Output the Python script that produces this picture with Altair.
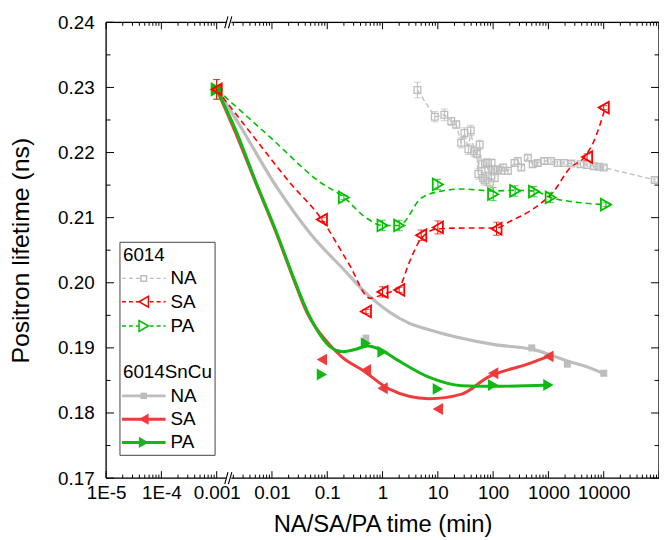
import altair as alt
import pandas as pd

# ------------------------------------------------------------------ data
# 6014, natural ageing (open grey squares, dashed connecting line)
NA6014_X = [4.27, 8.8, 13.1, 17.5, 21.5, 26.4, 30.3, 35.7, 39.4, 45.2, 50.5, 54, 57.1,
            61.9, 66, 71.1, 76.2, 81.5, 87.3, 93.5, 100, 107, 123, 141, 151, 185, 244,
            280, 322, 424, 520, 638, 841, 1110, 1460, 1920, 2600, 3800, 5000, 6600,
            8200, 10000, 83800]
NA6014_Y = [0.2296, 0.2255, 0.2258, 0.2248, 0.2243, 0.2215, 0.2230, 0.2205, 0.2234,
            0.2202, 0.2198, 0.2167, 0.2212, 0.2182, 0.2161, 0.2157, 0.2184, 0.2174,
            0.2154, 0.2184, 0.2174, 0.2161, 0.2174, 0.2172, 0.2177, 0.2172, 0.2184,
            0.2187, 0.2177, 0.2192, 0.2182, 0.2184, 0.2187, 0.2187, 0.2184, 0.2184,
            0.2183, 0.2182, 0.2181, 0.2179, 0.2178, 0.2177, 0.2158]
NA6014_ERR = [0.0012, 0.0008, 0.0009, 0.0006, 0.0006, 0.0008, 0.0008, 0.0008, 0.0008,
              0.0008, 0.0006, 0.0008, 0.0007, 0.0007, 0.0008, 0.0008, 0.0007, 0.0006,
              0.0006, 0.0006, 0.0006, 0.0006, 0.0005, 0.0005, 0.0005, 0.0005, 0.0005,
              0.0005, 0.0004, 0.0004, 0.0004, 0.0004, 0.0004, 0.0003, 0.0003, 0.0003,
              0.0003, 0.0003, 0.0003, 0.0003, 0.0003, 0.0003, 0.0003]

# 6014, SA (open red left triangles) and PA (open green right triangles)
SA6014_X = [0.001, 0.08, 0.5, 1, 2, 5, 10, 115, 5000, 10000]
SA6014_Y = [0.2297, 0.2097, 0.1956, 0.1986, 0.1989, 0.2073, 0.2085, 0.2083, 0.2193, 0.2269]
SA6014_ERR = [0.0015, 0.0003, 0.0003, 0.0008, 0.0004, 0.0008, 0.0010, 0.0010, 0.0005, 0.0003]
PA6014_X = [0.001, 0.2, 1, 2, 10, 100, 250, 550, 1100, 11000]
PA6014_Y = [0.2297, 0.2131, 0.2088, 0.2088, 0.2151, 0.2136, 0.2141, 0.2140, 0.2131, 0.2120]
PA6014_ERR = [0.0015, 0.0003, 0.0008, 0.0008, 0.0008, 0.0010, 0.0008, 0.0008, 0.0008, 0.0003]

# smoothed guide curves for 6014 SA / PA (dashed)
SA6014_FIT_X = [0.001, 0.005, 0.02, 0.08, 0.25, 0.6, 1, 2, 3, 5, 10, 30, 115, 200, 500,
                1260, 2500, 4400, 6600, 10700]
SA6014_FIT_Y = [0.2297, 0.2221, 0.2156, 0.2097, 0.2028, 0.1976, 0.1982, 0.1993, 0.2030,
                0.2068, 0.2083, 0.2084, 0.2084, 0.2094, 0.2112, 0.2141, 0.2177, 0.2192,
                0.2217, 0.2269]
PA6014_FIT_X = [0.001, 0.01, 0.07, 0.2, 0.5, 1, 2, 5, 12, 27, 100, 250, 550, 1100, 3800, 11000]
PA6014_FIT_Y = [0.2297, 0.2221, 0.2156, 0.2131, 0.2100, 0.2088, 0.2088, 0.2130, 0.2141,
                0.2144, 0.2141, 0.2142, 0.2141, 0.2131, 0.2123, 0.2120]

# 6014SnCu (filled markers, solid smoothed curves)
NASN_X = [0.001, 0.5, 500, 2200, 10000]
NASN_Y = [0.2297, 0.1915, 0.1900, 0.1875, 0.1861]
SASN_X = [0.001, 0.08, 0.5, 1, 10, 100, 1000]
SASN_Y = [0.2297, 0.1882, 0.1866, 0.1838, 0.1806, 0.1861, 0.1887]
PASN_X = [0.001, 0.08, 0.5, 1, 10, 100, 1000]
PASN_Y = [0.2297, 0.1859, 0.1907, 0.1894, 0.1837, 0.1843, 0.1843]

NASN_FIT_X = [0.001, 0.0022, 0.0124, 0.05, 0.2, 0.55, 3, 6.9, 107, 560, 2200, 6600, 10000]
NASN_FIT_Y = [0.2297, 0.2252, 0.2146, 0.2075, 0.2020, 0.1981, 0.1938, 0.1928, 0.1905,
              0.1897, 0.1880, 0.1867, 0.1860]
SASN_FIT_X = [0.001, 0.0022, 0.005, 0.0124, 0.025, 0.043, 0.11, 0.19, 0.45, 1.3, 6.9, 27,
              81, 415, 1000]
SASN_FIT_Y = [0.2297, 0.2230, 0.2155, 0.2073, 0.2004, 0.1954, 0.1905, 0.1885, 0.1865,
              0.1837, 0.1822, 0.1829, 0.1855, 0.1875, 0.1887]
PASN_FIT_X = [0.001, 0.0022, 0.005, 0.0124, 0.025, 0.043, 0.12, 0.19, 0.33, 0.54, 0.88,
              1.8, 6.9, 27, 107, 1000]
PASN_FIT_Y = [0.2297, 0.2235, 0.2157, 0.2075, 0.2006, 0.1957, 0.1900, 0.1894, 0.1898,
              0.1903, 0.1898, 0.1882, 0.1855, 0.1842, 0.1841, 0.1843]

# axis ticks
XTICK_VALS = [1e-5, 1e-4, 1e-3, 1e-2, 1e-1, 1, 10, 100, 1000, 10000]
XTICK_LABELS = ["1E-5", "1E-4", "0.001", "0.01", "0.1", "1", "10", "100", "1000", "10000"]
XMAJOR = XTICK_VALS + [100000]
XMINOR = [m * 10.0 ** d for d in range(-5, 5) for m in range(2, 10)]
YTICK_VALS = [0.17, 0.18, 0.19, 0.20, 0.21, 0.22, 0.23, 0.24]
YMINOR = [0.175, 0.185, 0.195, 0.205, 0.215, 0.225, 0.235]
# axis break: gap and two slanted strokes (start/end in time units)
BREAK_GAP = [0.00148, 0.00184]
BREAK_SLASH_FROM = [0.00140, 0.00163]
BREAK_SLASH_TO = [0.00160, 0.00188]

LEG_GROUPS = ["6014", "6014SnCu"]
LEG_LABELS = ["NA", "SA", "PA"]

XTITLE = "NA/SA/PA time (min)"
YTITLE = "Positron lifetime (ns)"

# ------------------------------------------------------------------ style
W, H = 558, 460
FONT = "Liberation Sans"
GREY = "#bdbdbd"
RED = "#ff0000"
GREEN = "#00c000"
RED2 = "#ef3b3b"
GREEN2 = "#14b814"
TICKFS = 19
LEGFS = 19

xs = alt.Scale(type="log", domain=[1e-5, 1e5], nice=False)
ys = alt.Scale(domain=[0.17, 0.24], nice=False, zero=False)

xlabel_expr = " : ".join(
    f"abs(datum.value/{v} - 1) < 1e-6 ? '{l}'" for v, l in zip(XTICK_VALS, XTICK_LABELS)
) + " : ''"
XAX = alt.Axis(values=XTICK_VALS, labelExpr=xlabel_expr, ticks=False, domain=False,
               grid=False, labelFontSize=TICKFS, labelFont=FONT, labelColor="black",
               labelPadding=6, titleFont=FONT, titleFontSize=24,
               titleFontWeight="normal", titleColor="black", titlePadding=10,
               labelFlush=False, labelOverlap=False)
YAX = alt.Axis(values=YTICK_VALS, format=".2f", ticks=False, domain=False,
               grid=False, labelFontSize=TICKFS, labelFont=FONT, labelColor="black",
               labelPadding=12, titleFont=FONT, titleFontSize=25,
               titleFontWeight="normal", titleColor="black", titlePadding=24,
               labelFlush=False, labelOverlap=False)


def df(x, y, err=None):
    d = pd.DataFrame({"x": x, "y": y})
    if err is not None:
        d["lo"] = [a - e for a, e in zip(y, err)]
        d["hi"] = [a + e for a, e in zip(y, err)]
    return d


def X(f="x"):
    return alt.X(f"{f}:Q", scale=xs, axis=XAX, title=XTITLE)


def Y(f="y"):
    return alt.Y(f"{f}:Q", scale=ys, axis=YAX, title=YTITLE)


def errorbars(d, color):
    base = alt.Chart(d)
    r = base.mark_rule(color=color, strokeWidth=1).encode(x=X(), y=Y("lo"), y2="hi:Q")
    t1 = base.mark_tick(orient="horizontal", size=7, thickness=1, color=color).encode(x=X(), y=Y("lo"))
    t2 = base.mark_tick(orient="horizontal", size=7, thickness=1, color=color).encode(x=X(), y=Y("hi"))
    return [r, t1, t2]


def line(d, color, width, dash=None):
    kw = dict(color=color, strokeWidth=width, interpolate="monotone")
    if dash:
        kw["strokeDash"] = dash
    return alt.Chart(d).mark_line(**kw).encode(x=X(), y=Y(), order="x:Q")


def points(d, shape, color, filled, size, sw=1.6):
    if filled:
        m = alt.Chart(d).mark_point(shape=shape, filled=True, color=color, size=size, opacity=1)
    else:
        m = alt.Chart(d).mark_point(shape=shape, filled=False, color=color, size=size,
                                    strokeWidth=sw, opacity=1)
    return m.encode(x=X(), y=Y())


layers = []

# ---- 6014SnCu (solid)
layers.append(line(df(NASN_FIT_X, NASN_FIT_Y), GREY, 3.2))
layers.append(points(df(NASN_X, NASN_Y), "square", GREY, True, 50))
layers.append(line(df(SASN_FIT_X, SASN_FIT_Y), RED2, 3.0))
layers.append(line(df(PASN_FIT_X, PASN_FIT_Y), GREEN2, 3.0))
layers.append(points(df(SASN_X, SASN_Y), "triangle-left", RED2, True, 145))
layers.append(points(df(PASN_X, PASN_Y), "triangle-right", GREEN2, True, 145))

# ---- 6014 (dashed, open)
dna = df(NA6014_X, NA6014_Y, NA6014_ERR)
layers.append(alt.Chart(dna).mark_line(color=GREY, strokeWidth=1.3, strokeDash=[5, 3])
              .encode(x=X(), y=Y(), order="x:Q"))
layers += errorbars(dna, GREY)
layers.append(points(dna, "square", GREY, False, 46, 1.3))

layers.append(line(df(PA6014_FIT_X, PA6014_FIT_Y), GREEN, 1.6, [6, 4]))
layers.append(line(df(SA6014_FIT_X, SA6014_FIT_Y), RED, 1.6, [6, 4]))
dpa = df(PA6014_X, PA6014_Y, PA6014_ERR)
dsa = df(SA6014_X, SA6014_Y, SA6014_ERR)
layers += errorbars(dpa, GREEN)
layers += errorbars(dsa, RED)
layers.append(points(dpa, "triangle-right", GREEN, False, 140, 1.8))
layers.append(points(dsa, "triangle-left", RED, False, 140, 1.8))

# ---- frame and inward ticks
one = pd.DataFrame({"a": [0]})
frame = [
    alt.Chart(one).mark_rule(color="black", strokeWidth=1.3).encode(x=alt.value(0), x2=alt.value(W), y=alt.value(H)),
    alt.Chart(one).mark_rule(color="black", strokeWidth=1.3).encode(x=alt.value(0), x2=alt.value(W), y=alt.value(0)),
    alt.Chart(one).mark_rule(color="black", strokeWidth=1.3).encode(x=alt.value(0), y=alt.value(0), y2=alt.value(H)),
    alt.Chart(one).mark_rule(color="black", strokeWidth=1.3).encode(x=alt.value(W), y=alt.value(0), y2=alt.value(H)),
]
layers += frame

dxM = pd.DataFrame({"x": XMAJOR})
dxm = pd.DataFrame({"x": XMINOR})
dyM = pd.DataFrame({"y": YTICK_VALS})
dym = pd.DataFrame({"y": YMINOR})
for d, ln in ((dxM, 7), (dxm, 3.5)):
    layers.append(alt.Chart(d).mark_rule(color="black", strokeWidth=1).encode(
        x=X(), y=alt.value(H), y2=alt.value(H - ln)))
    layers.append(alt.Chart(d).mark_rule(color="black", strokeWidth=1).encode(
        x=X(), y=alt.value(0), y2=alt.value(ln)))
for d, ln in ((dyM, 8), (dym, 4.5)):
    layers.append(alt.Chart(d).mark_rule(color="black", strokeWidth=1).encode(
        y=Y(), x=alt.value(0), x2=alt.value(ln)))
    layers.append(alt.Chart(d).mark_rule(color="black", strokeWidth=1).encode(
        y=Y(), x=alt.value(W), x2=alt.value(W - ln)))

# axis break marks (white gap + two slanted strokes on top and bottom axes)
dgap = pd.DataFrame({"x": [BREAK_GAP[0]], "x2": [BREAK_GAP[1]]})
dsl = pd.DataFrame({"x": BREAK_SLASH_FROM, "x2": BREAK_SLASH_TO})
for yy in (0, H):
    layers.append(alt.Chart(dgap).mark_rect(color="white").encode(
        x=X(), x2="x2:Q", y=alt.value(yy - 2.5), y2=alt.value(yy + 2.5)))
    layers.append(alt.Chart(dsl).mark_rule(color="black", strokeWidth=1.1).encode(
        x=X(), x2="x2:Q", y=alt.value(yy + 6), y2=alt.value(yy - 6)))

# ---- legend
LX0, LX1, LY0, LY1 = 14, 110, 222, 437
layers.append(alt.Chart(one).mark_rect(fill="white", stroke="#444444", strokeWidth=1).encode(
    x=alt.value(LX0), x2=alt.value(LX1), y=alt.value(LY0), y2=alt.value(LY1)))
leg_styles = [
    [(GREY, [4, 3], "square", False, 1.3, 32), (RED, [4, 3], "triangle-left", False, 1.3, 120),
     (GREEN, [4, 3], "triangle-right", False, 1.3, 120)],
    [(GREY, None, "square", True, 3, 42), (RED2, None, "triangle-left", True, 3, 130),
     (GREEN2, None, "triangle-right", True, 3, 130)],
]
group_y = [235, 353]
row_y = [[258.5, 282, 306.5], [377, 400.5, 424]]
for g, gname in enumerate(LEG_GROUPS):
    layers.append(alt.Chart(one).mark_text(align="left", baseline="middle", fontSize=LEGFS, font=FONT,
                                           color="black").encode(
        x=alt.value(LX0 + 3), y=alt.value(group_y[g]), text=alt.value(gname)))
    for i, lab in enumerate(LEG_LABELS):
        col, dash, shape, filled, sw, sz = leg_styles[g][i]
        yy = row_y[g][i]
        rk = dict(color=col, strokeWidth=sw)
        if dash:
            rk["strokeDash"] = dash
        layers.append(alt.Chart(one).mark_rule(**rk).encode(
            x=alt.value(LX0 + 2), x2=alt.value(LX0 + 46), y=alt.value(yy)))
        pk = dict(shape=shape, filled=filled, color=col, size=sz, opacity=1)
        if not filled:
            pk["strokeWidth"] = 1.5
            pk["fill"] = "white"
        layers.append(alt.Chart(one).mark_point(**pk).encode(x=alt.value(LX0 + 24), y=alt.value(yy)))
        layers.append(alt.Chart(one).mark_text(align="left", baseline="middle", fontSize=LEGFS, font=FONT,
                                               color="black").encode(
            x=alt.value(LX0 + 51), y=alt.value(yy), text=alt.value(lab)))

chart = alt.layer(*layers).properties(
    width=W, height=H,
    autosize=alt.AutoSizeParams(type="none"),
    padding={"left": 99, "top": 12, "right": 0, "bottom": 58},
).configure_view(stroke=None).configure(background="white")

chart.save("out.html", embed_options={"renderer": "svg", "actions": False})
